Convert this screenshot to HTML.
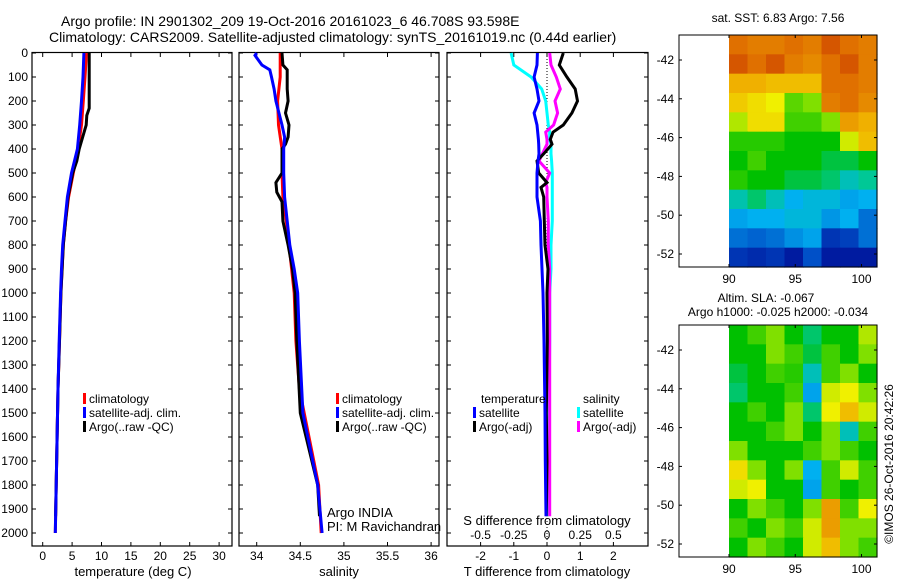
<!DOCTYPE html>
<html><head><meta charset="utf-8">
<style>
html,body{margin:0;padding:0;background:#fff;}
svg{display:block;font-family:"Liberation Sans",sans-serif;}
text{fill:#000;}
</style></head>
<body>
<svg id="fig" width="900" height="580" viewBox="0 0 900 580" xmlns="http://www.w3.org/2000/svg">
<text x="61" y="26" font-size="14">Argo profile: IN 2901302_209 19-Oct-2016 20161023_6 46.708S 93.598E</text>
<text x="49" y="42" font-size="14">Climatology: CARS2009. Satellite-adjusted climatology: synTS_20161019.nc (0.44d earlier)</text>
<g id="plots"></g>
<text x="133" y="576" font-size="13" text-anchor="middle">temperature (deg C)</text>
<text x="339" y="576" font-size="13" text-anchor="middle">salinity</text>
<text x="547" y="576" font-size="13" text-anchor="middle">T difference from climatology</text>
<text x="547" y="525" font-size="13" text-anchor="middle">S difference from climatology</text>
<text x="327" y="517" font-size="13">Argo INDIA</text>
<text x="327" y="531" font-size="13">PI: M Ravichandran</text>
<text x="778" y="22" font-size="12" text-anchor="middle">sat. SST: 6.83 Argo: 7.56</text>
<text x="766" y="302" font-size="12" text-anchor="middle">Altim. SLA: -0.067</text>
<text x="778" y="316" font-size="12" text-anchor="middle">Argo h1000: -0.025 h2000: -0.034</text>
<text transform="translate(893,464) rotate(-90)" font-size="12" text-anchor="middle">©IMOS 26-Oct-2016 20:42:26</text>
</svg>
<script>
// ---- data ----
const depthClim = [0,100,200,300,400,500,600,700,800,900,1000,1200,1400,1600,1800,2000];
const tempClim  = [7.45,7.2,6.9,6.6,6.0,5.2,4.4,3.9,3.5,3.3,3.1,2.85,2.6,2.45,2.3,2.15];
const tempSat   = [7.0,6.85,6.6,6.3,5.9,4.9,4.2,3.8,3.4,3.2,3.05,2.8,2.6,2.45,2.3,2.15];
const salClim   = [34.27,34.27,34.24,34.25,34.29,34.29,34.30,34.34,34.37,34.40,34.43,34.45,34.49,34.60,34.71,34.74];
const depthSalSat = [0,10,50,70,100,150,200,300,350,400,500,600,700,800,900,1000,1200,1500,1800,2000];
const salSat    = [34.0,33.98,34.06,34.15,34.17,34.2,34.22,34.29,34.32,34.31,34.31,34.32,34.35,34.38,34.43,34.47,34.49,34.53,34.70,34.75];
const depthArgoT = [0,100,200,230,260,300,350,400,450,500,600,700,800,900,1000,1200,1400,1600,1800,1930];
const tempArgo  = [7.9,7.9,7.9,7.9,7.5,7.4,6.8,6.2,5.8,5.1,4.3,3.9,3.5,3.3,3.1,2.85,2.6,2.45,2.3,2.2];
const depthArgoS = [0,50,70,150,200,250,300,350,380,400,500,540,580,620,700,800,900,1000,1200,1500,1800,1930];
const salArgo   = [34.29,34.30,34.35,34.35,34.36,34.33,34.37,34.36,34.33,34.29,34.29,34.22,34.23,34.29,34.30,34.36,34.41,34.44,34.46,34.50,34.70,34.72];
const depthDiff = [0,50,100,150,200,250,300,330,360,380,420,450,500,540,560,600,700,800,900,1000,1200,1500,1700,1930];
const dTsat  = [-0.29,-0.3,-0.39,-0.3,-0.24,-0.39,-0.3,-0.28,-0.26,-0.25,-0.24,-0.27,-0.3,-0.3,-0.3,-0.3,-0.2,-0.18,-0.15,-0.12,-0.09,-0.06,-0.05,-0.03];
const dTargo = [0.49,0.37,0.6,0.85,0.92,0.75,0.49,0.18,0.1,0.15,-0.1,-0.3,-0.25,0,-0.18,-0.1,-0.08,-0.06,0.03,0,0.01,-0.02,0,-0.02];
const dSsat  = [-0.27,-0.25,-0.12,-0.04,-0.01,0,0.01,0.02,0.02,0.03,0.03,0.035,0.04,0.04,0.04,0.04,0.04,0.03,0.03,0.02,0.02,0.015,0.01,0.005];
const dSargo = [0.02,0.03,0.07,0.1,0.06,0.08,0.05,-0.01,0.0,0.0,-0.035,-0.06,0.02,-0.01,0.0,0.0,0.01,0.01,0.02,0.02,0.02,0.02,0.02,0.02];
const depthTicks = [0,100,200,300,400,500,600,700,800,900,1000,1100,1200,1300,1400,1500,1600,1700,1800,1900,2000];
const tempTicks = [0,5,10,15,20,25,30];
const salTicks = [34,34.5,35,35.5,36];
const salTickLabels = ['34','34.5','35','35.5','36'];
const dTTicks = [-2,-1,0,1,2];
const dSTicks = [-0.5,-0.25,0,0.25,0.5];
const dSTickLabels = ['-0.5','-0.25','0','0.25','0.5'];
const latTicks = [-42,-44,-46,-48,-50,-52];
const lonTicks = [90,95,100];
const sstGrid = [
[.82,.80,.80,.82,.80,.85,.82,.80],
[.85,.82,.85,.80,.78,.82,.85,.80],
[.72,.72,.70,.70,.70,.82,.82,.80],
[.68,.65,.62,.52,.55,.80,.82,.78],
[.58,.65,.65,.50,.50,.55,.75,.72],
[.48,.48,.48,.45,.45,.45,.60,.70],
[.45,.50,.45,.45,.45,.42,.42,.45],
[.48,.45,.45,.42,.42,.40,.35,.38],
[.36,.40,.35,.30,.32,.32,.28,.30],
[.28,.30,.30,.32,.32,.26,.30,.20],
[.20,.18,.20,.25,.28,.10,.12,.20],
[.10,.08,.10,.05,.15,.05,.05,.05]];
const slaGrid = [
[.45,.50,.55,.45,.40,.45,.45,.58],
[.45,.45,.55,.50,.42,.50,.45,.55],
[.42,.45,.50,.48,.35,.50,.55,.45],
[.40,.45,.45,.50,.28,.60,.62,.55],
[.45,.50,.45,.55,.40,.62,.70,.60],
[.45,.45,.50,.55,.45,.55,.35,.50],
[.55,.45,.45,.45,.50,.55,.50,.45],
[.65,.55,.45,.55,.30,.50,.60,.50],
[.60,.62,.45,.45,.28,.50,.45,.50],
[.45,.55,.50,.45,.55,.75,.50,.62],
[.50,.45,.55,.50,.60,.75,.55,.55],
[.45,.55,.50,.45,.60,.70,.55,.50]];

// ---- helpers ----
const NS='http://www.w3.org/2000/svg';
const root=document.getElementById('plots');
function mk(tag,attrs,parent){const e=document.createElementNS(NS,tag);for(const k in attrs)e.setAttribute(k,attrs[k]);(parent||root).appendChild(e);return e;}
const yTop=53, yBot=546;
const yD = d => yTop + d*0.24;
const xT = v => 42.7 + v*5.88;
const xS = v => 256.7 + (v-34)*87.2;
const xdT = v => 547 + v*33.2;
const xdS = v => 547 + v*132.8;

function frame(x0,x1,name){
  const r=mk('rect',{x:x0,y:yTop-0.5,width:x1-x0,height:yBot-yTop+0.5,fill:'none',stroke:'#000','stroke-width':1.2});
  
  
  depthTicks.forEach(d=>{
    const y=yD(d);
    mk('line',{x1:x0,x2:x0+4,y1:y,y2:y,stroke:'#000'});
    mk('line',{x1:x1-4,x2:x1,y1:y,y2:y,stroke:'#000'});
  });
}
function xticks(vals,labels,fx,name,ly){
  vals.forEach((v,i)=>{
    const x=fx(v);
    mk('line',{x1:x,x2:x,y1:yBot,y2:yBot-4,stroke:'#000'});
    mk('line',{x1:x,x2:x,y1:yTop,y2:yTop+4,stroke:'#000'});
    const t=mk('text',{x:x,y:ly,'font-size':12,'text-anchor':'middle'});
    
    
    t.textContent=labels[i];
  });
}
function series(depths,vals,fx,color,name){
  const pts=depths.map((d,i)=>fx(vals[i]).toFixed(1)+','+yD(d).toFixed(1)).join(' ');
  const p=mk('polyline',{points:pts,fill:'none',stroke:color,'stroke-width':3,'stroke-linejoin':'miter'});
  
  
}
function legend(x,y,color,label,name){
  mk('rect',{x:x,y:y-10,width:3,height:11,fill:color});
  const t=mk('text',{x:x+6,y:y,'font-size':12});
  
  
  t.textContent=label;
}

depthTicks.forEach(d=>{
  const t=mk('text',{x:28,y:yD(d)+4,'font-size':12,'text-anchor':'end'});
  
  
  t.textContent=String(d);
});

frame(32,232,'temperature-panel');
xticks(tempTicks,tempTicks.map(String),xT,'temp-tick-label',560);
series(depthClim,tempClim,xT,'#f00','temp-climatology-line');
series(depthArgoT,tempArgo,xT,'#000','temp-argo-line');
series(depthClim,tempSat,xT,'#00f','temp-satellite-line');
legend(83,403,'#f00','climatology','legend-climatology');
legend(83,417,'#00f','satellite-adj. clim.','legend-satellite-adj');
legend(83,431,'#000','Argo(..raw -QC)','legend-argo');

frame(239,439,'salinity-panel');
xticks(salTicks,salTickLabels,xS,'sal-tick-label',560);
series(depthClim,salClim,xS,'#f00','sal-climatology-line');
series(depthArgoS,salArgo,xS,'#000','sal-argo-line');
series(depthSalSat,salSat,xS,'#00f','sal-satellite-line');
legend(336,403,'#f00','climatology','legend-climatology');
legend(336,417,'#00f','satellite-adj. clim.','legend-satellite-adj');
legend(336,431,'#000','Argo(..raw -QC)','legend-argo');

frame(447,648,'difference-panel');
xticks(dTTicks,dTTicks.map(String),xdT,'dT-tick-label',560);
dSTicks.forEach((v,i)=>{
  const t=mk('text',{x:xdS(v),y:539,'font-size':12,'text-anchor':'middle'});
  
  
  t.textContent=dSTickLabels[i];
});
mk('line',{x1:xdT(0),x2:xdT(0),y1:yTop,y2:yBot,stroke:'#000','stroke-dasharray':'1,2'});
series(depthDiff,dSsat,xdS,'#0ff','dS-satellite-line');
series(depthDiff,dSargo,xdS,'#f0f','dS-argo-line');
series(depthDiff,dTargo,xdT,'#000','dT-argo-line');
series(depthDiff,dTsat,xdT,'#00f','dT-satellite-line');
{const t=mk('text',{x:481,y:403,'font-size':12});t.textContent='temperature';}
{const t=mk('text',{x:583,y:403,'font-size':12});t.textContent='salinity';}
legend(473,417,'#00f','satellite','legend-t-satellite');
legend(473,431,'#000','Argo(-adj)','legend-t-argo');
legend(577,417,'#0ff','satellite','legend-s-satellite');
legend(577,431,'#f0f','Argo(-adj)','legend-s-argo');

const stops=[[0,[0,0,140]],[0.15,[0,80,200]],[0.3,[0,176,240]],[0.38,[0,200,150]],[0.45,[0,192,0]],[0.55,[128,224,0]],[0.62,[240,240,0]],[0.72,[240,176,0]],[0.82,[224,112,0]],[0.95,[176,0,0]],[1,[140,0,0]]];
function cmap(v){
  for(let i=1;i<stops.length;i++){if(v<=stops[i][0]){const a=stops[i-1],b=stops[i];const f=(v-a[0])/(b[0]-a[0]);const c=a[1].map((x,k)=>Math.round(x+(b[1][k]-x)*f));return 'rgb('+c.join(',')+')';}}
  return 'rgb(140,0,0)';
}
function map(y0,y1,grid,name){
  const x0=679,x1=877;
  const lonX=l=>729+(l-90)*13.25;
  const latY0=y0+25, scale=19.4;
  const latY=l=>latY0+(-42-l)*scale;
  const g=mk('g',{});
  
  
  const rows=grid.length, cols=grid[0].length;
  const cw=(x1-729)/cols, ch=(y1-y0)/rows;
  grid.forEach((row,r)=>row.forEach((v,c)=>{
    const cell=mk('rect',{x:(729+c*cw).toFixed(2),y:(y0+r*ch).toFixed(2),width:(cw+0.6).toFixed(2),height:(ch+0.6).toFixed(2),fill:cmap(v)},g);
    
    
  }));
  mk('rect',{x:x0,y:y0,width:x1-x0,height:y1-y0,fill:'none',stroke:'#000'},g);
  latTicks.forEach(l=>{
    const y=latY(l);
    mk('line',{x1:x0,x2:x0+3,y1:y,y2:y,stroke:'#000'},g);
    mk('line',{x1:x1-3,x2:x1,y1:y,y2:y,stroke:'#000'},g);
    const t=mk('text',{x:x0-5,y:y+4,'font-size':12,'text-anchor':'end'},g);
    
    
    t.textContent=String(l);
  });
  lonTicks.forEach(l=>{
    const x=lonX(l);
    mk('line',{x1:x,x2:x,y1:y1,y2:y1-3,stroke:'#000'},g);
    mk('line',{x1:x,x2:x,y1:y0,y2:y0+3,stroke:'#000'},g);
    const t=mk('text',{x:x,y:y1+16,'font-size':12,'text-anchor':'middle'},g);
    
    
    t.textContent=String(l);
  });
}
map(35,267,sstGrid,'sst-map');
map(325,557,slaGrid,'sla-map');
</script>
</body></html>
